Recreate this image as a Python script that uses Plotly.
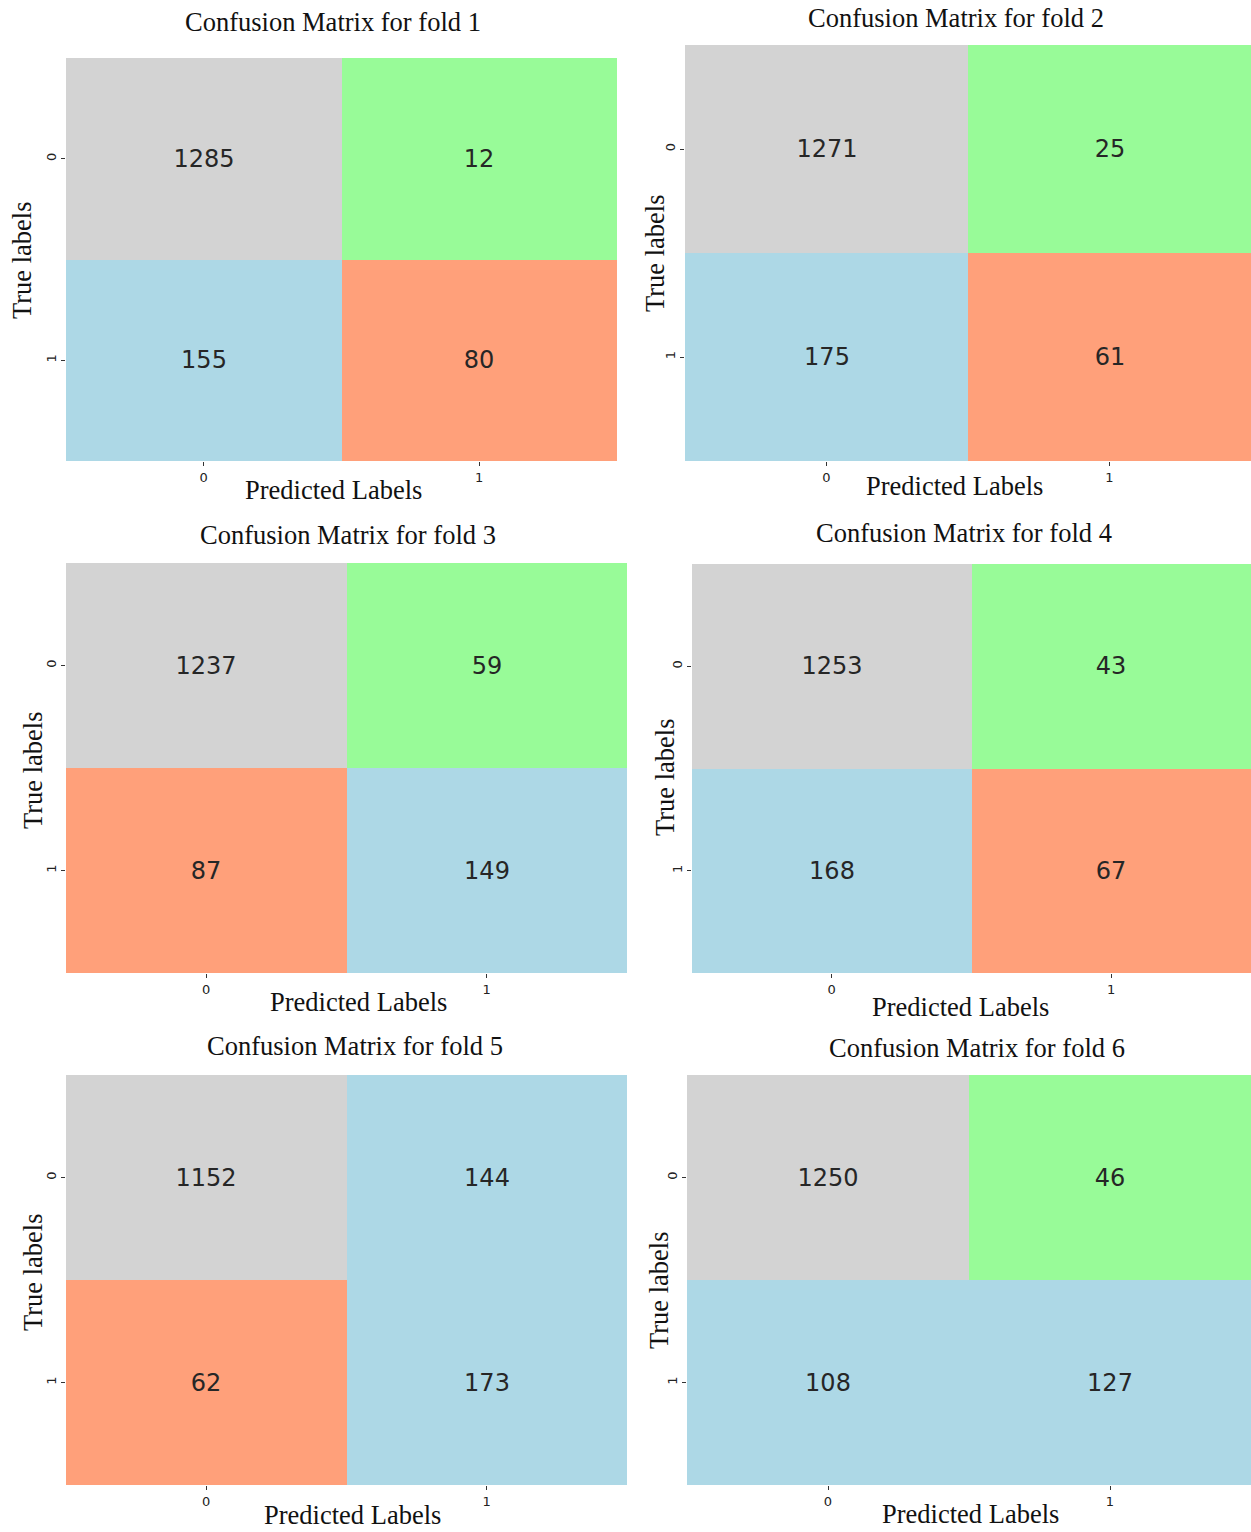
import plotly.graph_objects as go

W, H = 1251, 1532

fold_titles = ["Confusion Matrix for fold 1", "Confusion Matrix for fold 2", "Confusion Matrix for fold 3",
               "Confusion Matrix for fold 4", "Confusion Matrix for fold 5", "Confusion Matrix for fold 6"]
tick_labels = ["0", "1"]
x_title = "Predicted Labels"
y_title = "True labels"

# confusion matrix values [[TN, FP], [FN, TP]]
fold1 = [[1285, 12], [155, 80]]
fold2 = [[1271, 25], [175, 61]]
fold3 = [[1237, 59], [87, 149]]
fold4 = [[1253, 43], [168, 67]]
fold5 = [[1152, 144], [62, 173]]
fold6 = [[1250, 46], [108, 127]]
values = [fold1, fold2, fold3, fold4, fold5, fold6]

# cell colour categories: 0 gray, 1 green, 2 blue, 3 salmon
colors1 = [[0, 1], [2, 3]]
colors2 = [[0, 1], [2, 3]]
colors3 = [[0, 1], [3, 2]]
colors4 = [[0, 1], [2, 3]]
colors5 = [[0, 2], [3, 2]]
colors6 = [[0, 1], [2, 2]]
color_cats = [colors1, colors2, colors3, colors4, colors5, colors6]

palette = ["#D3D3D3", "#98FB98", "#ADD8E6", "#FFA07A"]
cscale = []
for i, c in enumerate(palette):
    cscale.append([i / 4, c])
    cscale.append([(i + 1) / 4, c])

# panel layout in pixels: (x0, x1, y0, y1, title_cx, title_y, xlab_cx, xlab_y, ylab_x, ylab_cy)
panels = [
    (66, 617, 58, 461, 333, 22, 333, 490, 22, 260),
    (685, 1251, 45, 461, 956, 18, 954, 486, 655, 253),
    (66, 627, 563, 973, 348, 535, 359, 1002, 33, 770),
    (692, 1251, 564, 973, 964, 533, 960, 1007, 665, 777),
    (66, 627, 1075, 1485, 355, 1046, 352, 1515, 33, 1272),
    (687, 1251, 1075, 1485, 977, 1048, 970, 1514, 659, 1290),
]

def px(x):
    return x / W

def py(y):
    return 1 - y / H

fig = go.Figure()
annotations = []
serif = "Liberation Serif, Times New Roman, serif"
for i, (vals, cats, p) in enumerate(zip(values, color_cats, panels)):
    x0, x1, y0, y1, tcx, ty, xcx, xy, ylx, ylcy = p
    n = "" if i == 0 else str(i + 1)
    fig.add_trace(go.Heatmap(
        z=cats, x=[0, 1], y=[0, 1], text=vals, texttemplate="%{text}",
        textfont=dict(family="DejaVu Sans", size=24, color="#262626"),
        colorscale=cscale, zmin=0, zmax=4, showscale=False,
        xaxis="x" + n, yaxis="y" + n, hoverinfo="skip"))
    axcommon = dict(tickvals=[0, 1], ticktext=tick_labels, range=[-0.5, 1.5],
                    showgrid=False, zeroline=False, ticks="outside", ticklen=4,
                    tickcolor="#333", tickfont=dict(family="DejaVu Sans", size=13, color="#222"),
                    showline=False)
    fig.layout["xaxis" + n] = dict(domain=[px(x0), px(x1)], anchor="y" + n, **axcommon)
    fig.layout["yaxis" + n] = dict(domain=[py(y1), py(y0)], anchor="x" + n,
                                   autorange=False, tickangle=-90, **{**axcommon, "range": [1.5, -0.5]})
    annotations.append(dict(text=fold_titles[i], x=px(tcx), y=py(ty), xref="paper", yref="paper",
                            showarrow=False, xanchor="center", yanchor="middle",
                            font=dict(family=serif, size=26.5, color="#111")))
    annotations.append(dict(text=x_title, x=px(xcx), y=py(xy), xref="paper", yref="paper",
                            showarrow=False, xanchor="center", yanchor="middle",
                            font=dict(family=serif, size=26.5, color="#111")))
    annotations.append(dict(text=y_title, x=px(ylx), y=py(ylcy), xref="paper", yref="paper",
                            showarrow=False, xanchor="center", yanchor="middle", textangle=-90,
                            font=dict(family=serif, size=26.5, color="#111")))

fig.update_layout(width=W, height=H, margin=dict(l=0, r=0, t=0, b=0),
                  paper_bgcolor="white", plot_bgcolor="white", annotations=annotations,
                  showlegend=False)
fig.write_html("out.html", config={"displayModeBar": False},
               post_script="document.body.style.margin='0';document.body.style.overflow='hidden';")
